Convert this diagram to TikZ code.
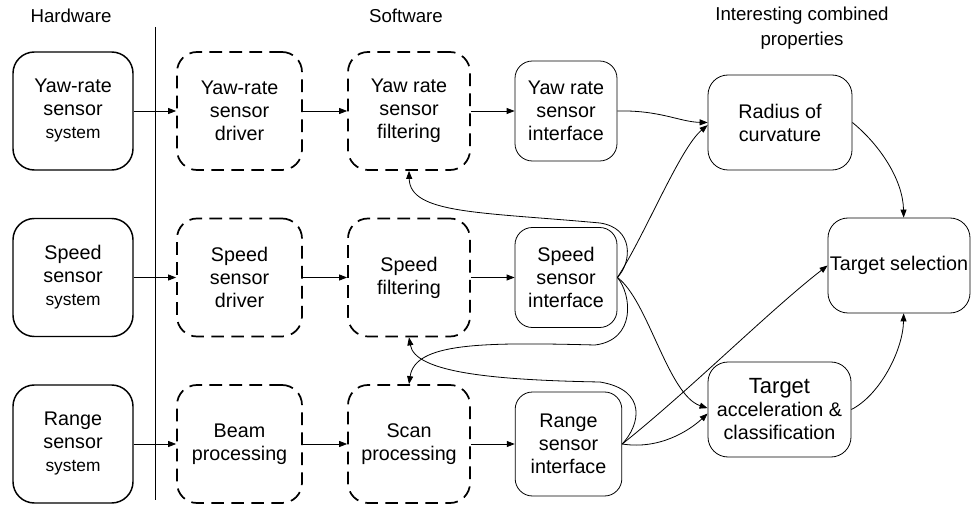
\documentclass[tikz,border=0pt]{standalone}
\usepackage{fontspec}
\setmainfont{Liberation Sans}
\usetikzlibrary{arrows.meta}
\newcommand\smtxt{\fontsize{13}{17.25}\selectfont}
\newcommand\bgtxt{\fontsize{16.5}{17.25}\selectfont}
\begin{document}
\begin{tikzpicture}[x=0.75pt,y=-0.75pt,
 every node/.style={font=\fontsize{14.8}{17.25}\selectfont, align=center, inner sep=0pt},
 hw/.style={draw, line width=1.1pt, rounded corners=16pt, minimum width=90pt, minimum height=88.5pt},
 swbox/.style={draw, line width=1.3pt, dash pattern=on 9.5pt off 5.5pt, rounded corners=15pt, minimum height=88.5pt},
 ifbox/.style={draw, line width=0.6pt, rounded corners=13pt, minimum width=76.5pt, minimum height=75pt},
 cbbox/.style={draw, line width=0.6pt, rounded corners=15pt, minimum width=108pt, minimum height=71.25pt},
 conn/.style={line width=0.6pt, -{Triangle[length=6pt,width=4.5pt]}},
 title/.style={font=\fontsize{14}{18.5}\selectfont}
]
\useasboundingbox (0,0) rectangle (972,506);

% titles
\node[title] (tHW) at (71,16) {Hardware};
\node[title] (tSW) at (406,16) {Software};
\node[title] (tCB) at (802,28) {Interesting combined\\properties};

% separator
\coordinate (vt) at (155,27);
\coordinate (vb) at (155,500);
\draw[line width=0.5pt] (vt) -- (vb);

% hardware
\node[hw] (yawH) at (73,111) {Yaw-rate\\sensor\\{\smtxt system}};
\node[hw] (spdH) at (73,277.5) {Speed\\sensor\\{\smtxt system}};
\node[hw] (rngH) at (73,444) {Range\\sensor\\{\smtxt system}};

% drivers
\node[swbox, minimum width=93.75pt] (yawD) at (239.5,111) {Yaw-rate\\sensor\\driver};
\node[swbox, minimum width=93.75pt] (spdD) at (239.5,277.5) {Speed\\sensor\\driver};
\node[swbox, minimum width=93.75pt] (rngD) at (239.5,444) {Beam\\processing};

% filtering
\node[swbox, minimum width=91.5pt] (yawF) at (409,111) {Yaw rate\\sensor\\filtering};
\node[swbox, minimum width=91.5pt] (spdF) at (409,277.5) {Speed\\filtering};
\node[swbox, minimum width=91.5pt] (scanP) at (409,444) {Scan\\processing};

% interfaces
\node[ifbox] (yawI) at (566,111) {Yaw rate\\sensor\\interface};
\node[ifbox] (spdI) at (566,277.5) {Speed\\sensor\\interface};
\node[ifbox, minimum width=80pt, minimum height=78pt] (rngI) at (568.5,444) {Range\\sensor\\interface};

% combined
\node[cbbox] (rad) at (780,122.5) {Radius of\\curvature};
\node[cbbox, minimum width=106.5pt] (tsel) at (899,265.5) {Target selection};
\node[cbbox, minimum width=107.25pt] (acc) at (779.5,409.5) {{\bgtxt Target}\\acceleration \&\\classification};

% straight connectors
\draw[conn] (yawH) -- (yawD);
\draw[conn] (spdH) -- (spdD);
\draw[conn] (rngH) -- (rngD);
\draw[conn] (yawD) -- (yawF);
\draw[conn] (spdD) -- (spdF);
\draw[conn] (rngD) -- (scanP);
\draw[conn] (yawF) -- (yawI);
\draw[conn] (spdF) -- (spdI);
\draw[conn] (scanP) -- (rngI);

% curved connectors
\draw[conn] (yawI.east) .. controls (660,110) and (680,122) .. (rad.west);
\draw[conn] (spdI.east) .. controls (645,235) and (680,148) .. ([yshift=-2pt]rad.west);
\draw[conn] (spdI.east) .. controls (648,300) and (668,395) .. ([yshift=1pt]acc.west);
\draw[conn] (spdI.east) .. controls (632,262) and (634,228) .. (600,223) .. controls (480,212) and (410,214) .. (yawF.south);
\draw[conn] (spdI.east) .. controls (632,295) and (636,340) .. (595,345) .. controls (480,342) and (415,343) .. (scanP.north);
\draw[conn] (rngI.east) .. controls (640,425) and (648,390) .. (600,382) .. controls (490,380) and (415,372) .. (spdF.south);
\draw[conn] (rngI.east) .. controls (690,390) and (770,310) .. (tsel.west);
\draw[conn] (rngI.east) .. controls (660,450) and (690,430) .. ([yshift=-3pt]acc.west);
\draw[conn] (rad.east) .. controls (880,145) and (903,180) .. ([xshift=3.5pt]tsel.north);
\draw[conn] (acc.east) .. controls (880,395) and (903,350) .. ([xshift=3.5pt]tsel.south);
\end{tikzpicture}
\end{document}
